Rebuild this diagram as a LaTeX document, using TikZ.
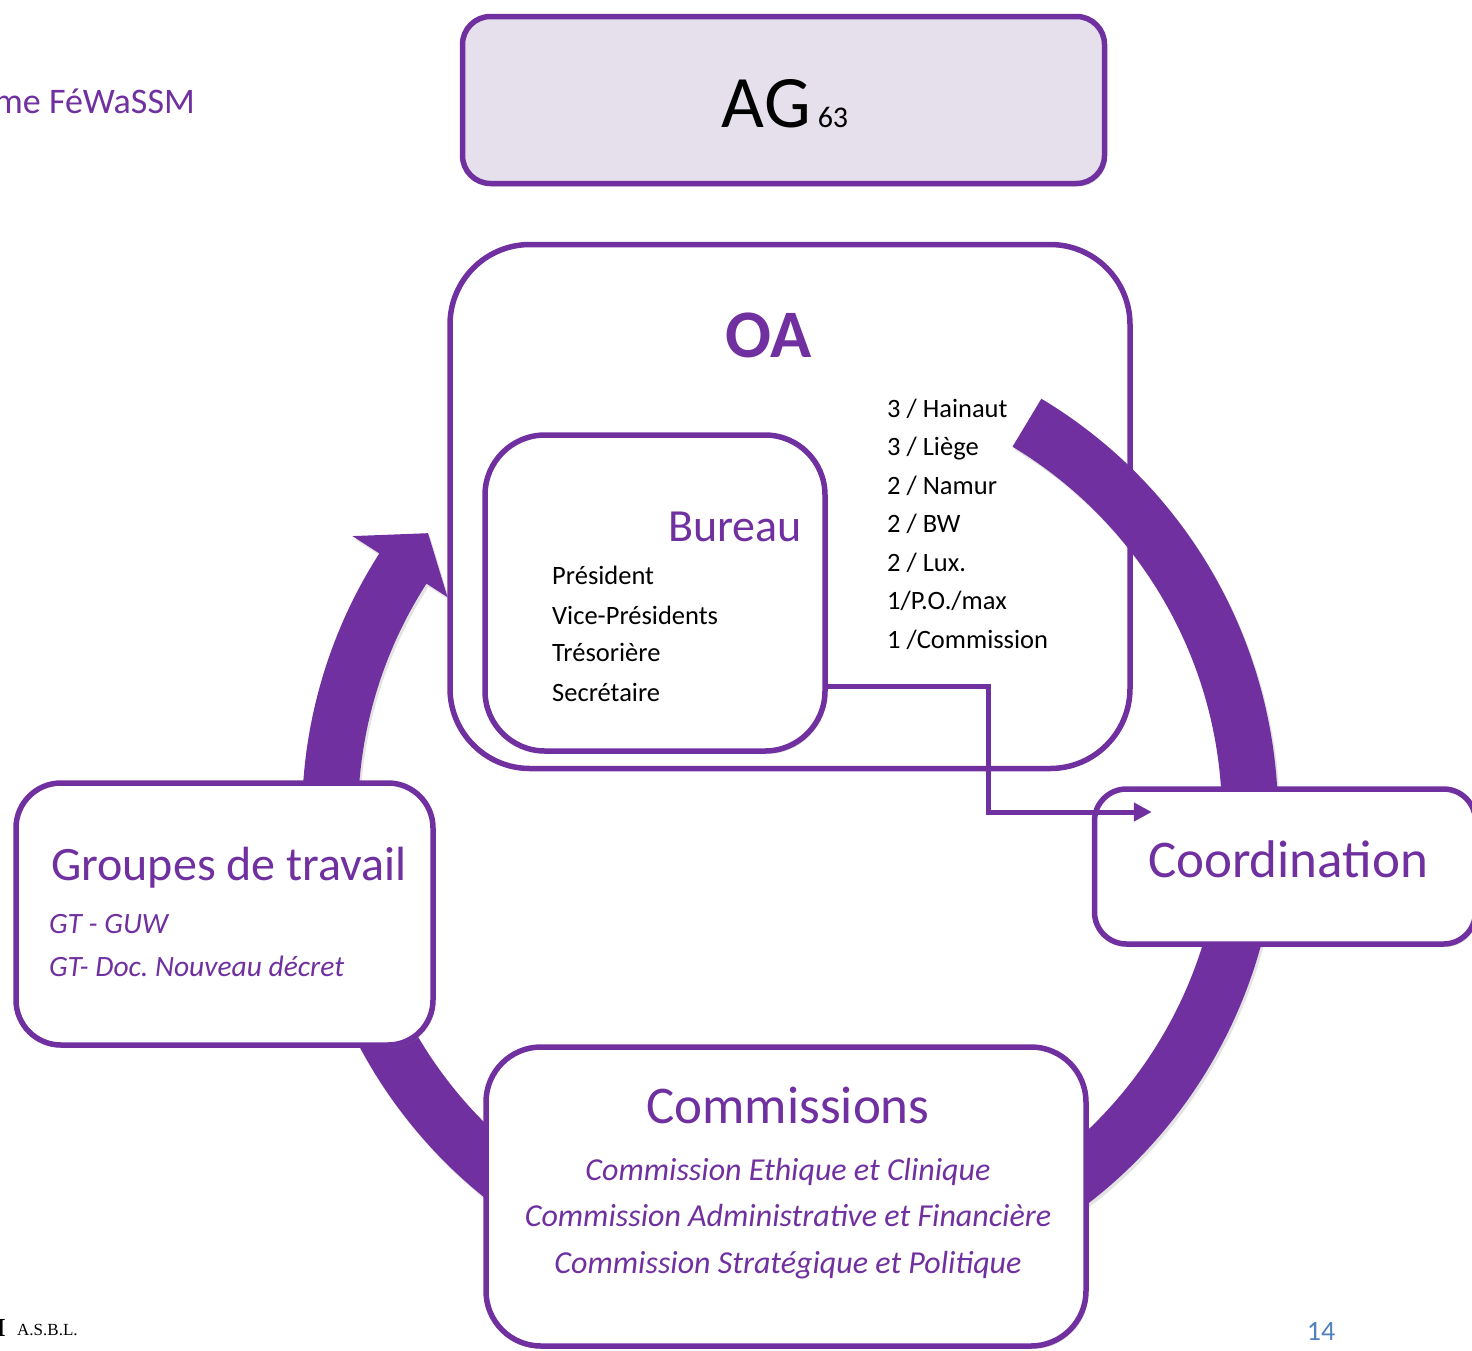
\documentclass[tikz,border=0pt]{standalone}
\usepackage{fontspec}
\setmainfont{Carlito}
\newfontfamily\oldserif{Liberation Serif}
\usetikzlibrary{%
	arrows.meta,%
	shadows%
}
\definecolor{royalpurple}{RGB}{112,48,160}
\definecolor{lavendermist}{RGB}{229,224,236}
\definecolor{slideblue}{RGB}{79,129,189}
\frenchspacing

\begin{document}
\begin{tikzpicture}[
        x=1pt, y=-1pt,
        >={Triangle[length=18pt,width=18pt]},
        softshadow/.style={drop shadow={opacity=0.22,shadow xshift=2pt,shadow yshift=-3pt}},
        box/.style={draw=royalpurple, line width=5.5pt, fill=white, inner sep=0pt, softshadow},
        frame/.style={draw=royalpurple, line width=5.5pt, inner sep=0pt},
        ring/.style={fill=royalpurple, softshadow},
        title/.style={text=royalpurple, inner sep=0pt},
        entry/.style={inner sep=0pt, anchor=base west, font={\fontsize{26.5}{30}\selectfont}},
        subentry/.style={text=royalpurple, inner sep=0pt, font={\itshape\fontsize{32}{36}\selectfont}},
        link/.style={draw=royalpurple, line width=5pt, ->}
    ]
    \useasboundingbox (0,0) rectangle (1472,1350);

    %the cycle arrow
    \begin{scope}[shift={(790,817)}]
        \fill[ring] (-59:488) arc[start angle=-59,end angle=212.7,radius=488]
            -- (212.7:520) -- (218.1:460) -- (212.7:407) -- (212.7:432)
            arc[start angle=212.7,end angle=-59,radius=432] -- cycle;
    \end{scope}

    %boxes
    \node[frame, minimum width=680pt, minimum height=524pt, rounded corners=80pt] (oa) at (790,506.5) {};
    \node[box, minimum width=340pt, minimum height=316pt, rounded corners=60pt] (bureau) at (655,593) {};
    \node[box, fill=lavendermist, minimum width=642pt, minimum height=167pt, rounded corners=28pt] (ag) at (783.5,100) {};
    \node[box, minimum width=381pt, minimum height=155pt, rounded corners=32pt] (coord) at (1285,866.5) {};
    \node[box, minimum width=417pt, minimum height=262pt, rounded corners=45pt] (groupes) at (224.5,914) {};
    \node[box, minimum width=600pt, minimum height=299pt, rounded corners=55pt] (commissions) at (786,1196.5) {};

    %titles
    \node[title, text=black, anchor=base, font={\fontsize{74}{80}\selectfont}] (agtitle) at (785,127)
        {AG\hspace{7pt}{\fontsize{30}{30}\selectfont 63}};
    \node[title, anchor=base, font={\bfseries\fontsize{68}{72}\selectfont}] (oatitle) at (769,357) {OA};
    \node[title, anchor=base east, font={\fontsize{46}{50}\selectfont}] (bureautitle) at (802,541) {Bureau};
    \node[title, anchor=base, font={\fontsize{53}{58}\selectfont}] (coordtitle) at (1288,877) {Coordination};
    \node[title, anchor=base west, font={\fontsize{48}{52}\selectfont}] (groupestitle) at (51,880) {Groupes de travail};
    \node[title, anchor=base, font={\fontsize{53}{58}\selectfont}] (commtitle) at (788,1123) {Commissions};

    %bureau
    \node[entry] (president) at (552,584) {Président};
    \node[entry] (vicepres) at (552,624) {Vice-Présidents};
    \node[entry] (tresor) at (552,661) {Trésorière};
    \node[entry] (secret) at (552,701) {Secrétaire};

    %seats in the OA
    \node[entry] (hainaut) at (887,417) {3 / Hainaut};
    \node[entry] (liege) at (887,455) {3 / Liège};
    \node[entry] (namur) at (887,494) {2 / Namur};
    \node[entry] (bw) at (887,532) {2 / BW};
    \node[entry] (lux) at (887,571) {2 / Lux.};
    \node[entry] (po) at (887,609) {1/P.O./max};
    \node[entry] (commseat) at (887,648) {1 /Commission};

    %working groups
    \node[subentry, anchor=base west, font={\itshape\fontsize{29.5}{34}\selectfont}] (gtguw) at (49,933) {GT - GUW};
    \node[subentry, anchor=base west, font={\itshape\fontsize{29.5}{34}\selectfont}] (gtdoc) at (49,976) {GT- Doc. Nouveau décret};

    %commissions
    \node[subentry, anchor=base] (ethique) at (788,1180) {Commission Ethique et Clinique};
    \node[subentry, anchor=base] (admin) at (788,1226) {Commission Administrative et Financière};
    \node[subentry, anchor=base] (strat) at (788,1273) {Commission Stratégique et Politique};

    %slide leftovers
    \node[title, anchor=base east, font={\fontsize{36}{40}\selectfont}] (slidetitle) at (195,113) {me FéWaSSM};
    \node[inner sep=0pt, anchor=base east, font={\oldserif\bfseries\fontsize{26}{30}\selectfont}] (logobar) at (6,1336) {I};
    \node[inner sep=0pt, anchor=base west, font={\oldserif\fontsize{17}{19}\selectfont}] (asbl) at (17,1335) {A.S.B.L.};
    \node[inner sep=0pt, anchor=base, text=slideblue, font={\fontsize{28}{30}\selectfont}] (pagenum) at (1321,1340) {14};

    %bureau to coordination
    \draw[link] ([yshift=-93pt]bureau.east) -- ++(161,0) |- ([xshift=60pt,yshift=54.5pt]coord.west);
\end{tikzpicture}
\end{document}
